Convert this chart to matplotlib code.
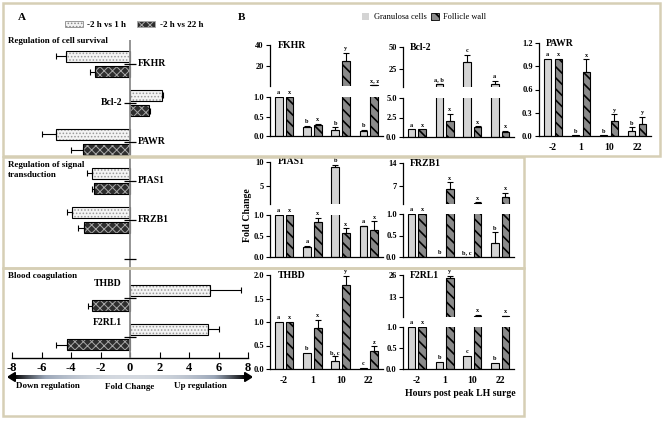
import matplotlib.pyplot as plt
import numpy as np
from matplotlib.patches import Rectangle, Patch
from matplotlib.colors import LinearSegmentedColormap

plt.rcParams['font.family'] = ['Liberation Serif', 'DejaVu Serif']
plt.rcParams['font.weight'] = 'bold'
plt.rcParams['axes.unicode_minus'] = False

# ---- panel A data: log fold change vs -2 h ----
genes = ['FKHR', 'Bcl-2', 'PAWR', 'PIAS1', 'FRZB1', '', 'THBD', 'F2RL1']
fc_1h = [-4.35, 2.2, -5.0, -2.6, -3.95, np.nan, 5.4, 5.3]
err_1h = [0.7, 0.05, 1.0, 0.3, 0.35, np.nan, 2.1, 0.7]
fc_22h = [-2.4, 1.3, -3.2, -2.45, -3.1, np.nan, -2.6, -4.3]
err_22h = [0.3, 0.05, 0.8, 0.1, 0.4, np.nan, 0.25, 0.7]
label_side = ['r', 'l', 'r', 'r', 'r', '', 'l', 'l']
groups = ['Regulation of cell survival', 'Regulation of signal\ntransduction', 'Blood coagulation']

# ---- panel B data: fold change, granulosa cells (gc) and follicle wall (fw) ----
hours = ['-2', '1', '10', '22']
gc_mean = {'FKHR': [1.0, 0.24, 0.15, 0.13], 'Bcl-2': [1.0, 8.5, 33.5, 8.5],
           'PAWR': [1.0, 0.01, 0.01, 0.07], 'PIAS1': [1.0, 0.25, 9.0, 0.74],
           'FRZB1': [1.0, 0.0, 0.01, 0.32], 'THBD': [1.0, 0.35, 0.17, 0.03],
           'F2RL1': [1.0, 0.17, 0.31, 0.14]}
gc_err = {'FKHR': [0, 0.02, 0.07, 0.03], 'Bcl-2': [0, 0.6, 8, 4],
          'PAWR': [0, 0, 0, 0.04], 'PIAS1': [0, 0.01, 0.4, 0.01],
          'FRZB1': [0, 0, 0, 0.25], 'THBD': [0, 0, 0.1, 0],
          'F2RL1': [0, 0, 0, 0]}
fw_mean = {'FKHR': [1.0, 0.27, 24.5, 1.8], 'Bcl-2': [1.0, 2.1, 1.3, 0.7],
           'PAWR': [1.0, 0.82, 0.19, 0.16], 'PIAS1': [1.0, 0.84, 0.58, 0.65],
           'FRZB1': [1.0, 5.8, 1.6, 3.5], 'THBD': [1.0, 0.88, 1.78, 0.38],
           'F2RL1': [1.0, 24.5, 1.9, 1.8]}
fw_err = {'FKHR': [0, 0.05, 8, 0.4], 'Bcl-2': [0, 0.9, 0.05, 0.1],
          'PAWR': [0, 0.17, 0.09, 0.09], 'PIAS1': [0, 0.09, 0.1, 0.2],
          'FRZB1': [0, 2.2, 0.2, 1.3], 'THBD': [0, 0.16, 0.2, 0.1],
          'F2RL1': [0, 1.2, 0.8, 0.3]}
gc_sig = {'FKHR': ['a', 'b', 'b', 'b'], 'Bcl-2': ['a', 'a, b', 'c', 'a'],
          'PAWR': ['a', 'b', 'b', 'b'], 'PIAS1': ['a', 'a', 'b', 'a'],
          'FRZB1': ['a', 'b', 'b, c', 'b'], 'THBD': ['a', 'b', 'b, c', 'c'],
          'F2RL1': ['a', 'b', 'c', 'b']}
fw_sig = {'FKHR': ['x', 'x', 'y', 'x, z'], 'Bcl-2': ['x', 'x', 'x', 'x'],
          'PAWR': ['x', 'x', 'y', 'y'], 'PIAS1': ['x', 'x', 'x', 'x'],
          'FRZB1': ['x', 'x', 'x', 'x'], 'THBD': ['x', 'x', 'y', 'z'],
          'F2RL1': ['x', 'y', 'x', 'x']}

W, H = 662, 422
fig = plt.figure(figsize=(W / 100, H / 100), dpi=100)


def add_ax(l, t, r, b):
    return fig.add_axes([l / W, 1 - b / H, (r - l) / W, (b - t) / H])


def fx(x):
    return x / W


def fy(y):
    return 1 - y / H


# section boxes
for (l, t, r, b) in [(3, 3, 660, 156), (3, 157, 524, 268), (3, 268, 524, 416)]:
    fig.patches.append(Rectangle((fx(l), fy(b)), (r - l) / W, (b - t) / H,
                                 transform=fig.transFigure, fill=False,
                                 edgecolor='#d6cfb5', lw=1.8))

fig.text(fx(18), fy(17), 'A', fontsize=8, va='center')
fig.text(fx(238), fy(17), 'B', fontsize=8, va='center')

# ---------------- panel A ----------------
axA = add_ax(12, 40, 248, 358)
pos = np.arange(len(genes))
ok = [i for i, g in enumerate(genes) if g]
v1 = np.array([fc_1h[i] for i in ok])
v2 = np.array([fc_22h[i] for i in ok])
e1 = np.array([err_1h[i] for i in ok])
e2 = np.array([err_22h[i] for i in ok])
p = pos[ok]

plt.rcParams['hatch.linewidth'] = 0.7
axA.barh(p - 0.2, v1, height=0.28, color='#f4f4f4', edgecolor='#9a9a9a', hatch='.....', lw=0)
axA.barh(p - 0.2, v1, height=0.28, fill=False, edgecolor='black', lw=0.8)
axA.barh(p + 0.2, v2, height=0.28, color='#2e2e2e', edgecolor='#a8a8a8', hatch='xxxx', lw=0)
axA.barh(p + 0.2, v2, height=0.28, fill=False, edgecolor='black', lw=0.8)
for vals, errs, off in [(v1, e1, -0.2), (v2, e2, 0.2)]:
    lo = np.where(vals < 0, errs, 0)
    hi = np.where(vals > 0, errs, 0)
    axA.errorbar(vals, p + off, xerr=[lo, hi], fmt='none', ecolor='black',
                 elinewidth=0.8, capsize=2.5, capthick=0.8)
axA.axvline(0, color='#8c8c8c', lw=1.3, zorder=4)
axA.plot(np.zeros(len(genes)), pos, ls='none', marker='_', ms=8, mew=0.9, color='black', zorder=5)
for i, g in enumerate(genes):
    if not g:
        continue
    if label_side[i] == 'r':
        axA.text(0.5, i, g, ha='left', va='center', fontsize=7)
    else:
        dy = -0.38 if g in ('THBD', 'F2RL1') else 0
        axA.text(-0.55, i + dy, g, ha='right', va='center', fontsize=7)
axA.set_xlim(-8, 8)
axA.set_ylim(7.54, -0.615)
axA.set_xticks(np.arange(-8, 9, 2))
axA.set_yticks([])
for s in ['top', 'right', 'left']:
    axA.spines[s].set_visible(False)
axA.spines['bottom'].set_linewidth(1.0)
axA.tick_params(axis='x', direction='in', length=4, labelsize=9, pad=3)
axA.patch.set_alpha(0)

for txt, y in zip(groups, [41, 170, 276]):
    fig.text(fx(8), fy(y), txt, fontsize=6.5, va='center', ha='left', linespacing=1.2)

# gradient arrow
axG = add_ax(8, 372, 252, 382)
axG.set_xlim(0, 1)
axG.set_ylim(0, 1)
axG.axis('off')
grad = np.abs(np.linspace(-1, 1, 300)) ** 2.2
cmap = LinearSegmentedColormap.from_list('g', ['#d4d9e0', '#9aa6b8', 'black'])
axG.imshow(grad[None, :], aspect='auto', cmap=cmap, extent=(0.025, 0.975, 0.3, 0.7))
axG.fill([0, 0.03, 0.03], [0.5, 0.05, 0.95], color='black')
axG.fill([1, 0.97, 0.97], [0.5, 0.05, 0.95], color='black')
fig.text(fx(48), fy(386), 'Down regulation', fontsize=6.5, ha='center', va='center')
fig.text(fx(130), fy(387), 'Fold Change', fontsize=6.5, ha='center', va='center')
fig.text(fx(200), fy(386), 'Up regulation', fontsize=6.5, ha='center', va='center')

hA = [Patch(facecolor='#f4f4f4', edgecolor='#8a8a8a', hatch='.....', lw=0.6),
      Patch(facecolor='#2e2e2e', edgecolor='#a8a8a8', hatch='xxxx', lw=0.6)]
fig.legend(hA, ['-2 h vs 1 h', '-2 h vs 22 h'], loc='center', bbox_to_anchor=(fx(134), fy(25)),
           ncol=2, frameon=False, fontsize=6.5, handlelength=2.0, handleheight=0.6,
           columnspacing=1.2, handletextpad=0.5)

# ---------------- panel B ----------------
plt.rcParams['hatch.linewidth'] = 1.2
x = np.arange(len(hours))


def draw_bars(ax, gene, floor=None):
    for off, means, errs, style in [(-0.19, gc_mean, gc_err, dict(color='#d4d4d4')),
                                    (0.19, fw_mean, fw_err, dict(color='#8a8a8a', hatch='\\\\\\'))]:
        m = np.array(means[gene])
        e = np.array(errs[gene])
        if floor is not None:
            # bars that end below the break are not shown in the upper part
            show = m > floor
        else:
            show = np.ones(4, bool)
        ax.bar(x[show] + off, m[show], 0.27, edgecolor='black', lw=0.8, **style)
        keep = show & (e > 0)
        if keep.any():
            ax.errorbar(x[keep] + off, m[keep], yerr=[np.zeros(keep.sum()), e[keep]], fmt='none',
                        ecolor='black', elinewidth=0.8, capsize=2, capthick=0.8)
    ax.set_xlim(-0.5, 3.5)
    ax.tick_params(axis='y', direction='out', length=3, width=0.8, labelsize=6, pad=1.5)
    for s in ['top', 'right']:
        ax.spines[s].set_visible(False)
    ax.spines['left'].set_linewidth(0.9)
    ax.spines['bottom'].set_linewidth(0.9)


def panel_b(gene, l, r, lower, upper=None, xlab=False):
    lt, lb, lylim, lticks, lfmt = lower
    axl = add_ax(l, lt, r, lb)
    draw_bars(axl, gene)
    axl.set_ylim(*lylim)
    axl.set_yticks(lticks)
    axl.set_yticklabels([lfmt.format(t) for t in lticks])
    if xlab:
        axl.set_xticks(x)
        axl.set_xticklabels(hours, fontsize=7)
        axl.tick_params(axis='x', length=0, pad=5)
    else:
        axl.set_xticks([])
    axu = None
    if upper:
        ut, ub, uylim, uticks = upper
        axu = add_ax(l, ut, r, ub)
        draw_bars(axu, gene, floor=uylim[0])
        axu.set_ylim(*uylim)
        axu.set_yticks(uticks)
        axu.set_xticks([])
        axu.spines['bottom'].set_visible(False)
        axu.patch.set_alpha(0)
    top_ax = axu if axu is not None else axl
    top_ax.text(0.065, 1.0, gene, transform=top_ax.transAxes, ha='left', va='center', fontsize=7)
    for off, means, errs, sig in [(-0.19, gc_mean, gc_err, gc_sig), (0.19, fw_mean, fw_err, fw_sig)]:
        for k in range(4):
            top = means[gene][k] + errs[gene][k]
            ax = axu if (axu is not None and top > lylim[1]) else axl
            ax.annotate(sig[gene][k], (x[k] + off, top), xytext=(0, 1.2), textcoords='offset points',
                        ha='center', va='bottom', fontsize=4.5, annotation_clip=False)


c1, c2, c3 = (270, 383), (403, 514), (539, 651)
panel_b('FKHR', *c1, (97, 136, (0, 1), [0, 0.5, 1.0], '{:.1f}'), (45, 86, (1.3, 40), [20, 40]))
panel_b('Bcl-2', *c2, (98, 137, (0, 5), [0, 2.5, 5.0], '{:.1f}'), (47, 87, (5.5, 50), [25, 50]))
panel_b('PAWR', *c3, (43, 136, (0, 1.2), [0, 0.3, 0.6, 0.9, 1.2], '{:.1f}'), xlab=True)
panel_b('PIAS1', *c1, (215, 257, (0, 1), [0, 0.5, 1.0], '{:.1f}'), (162, 204, (1.3, 10), [5, 10]))
panel_b('FRZB1', *c2, (214, 257, (0, 1), [0, 0.5, 1.0], '{:.1f}'), (163, 204, (1.3, 14), [7, 14]))
panel_b('THBD', *c1, (275, 369, (0, 2), [0, 0.5, 1.0, 1.5, 2.0], '{:.1f}'), xlab=True)
panel_b('F2RL1', *c2, (327, 369, (0, 1), [0, 0.5, 1.0], '{:.1f}'), (275, 317, (1.3, 26), [13, 26]), xlab=True)

fig.text(fx(247), fy(215), 'Fold Change', rotation=90, fontsize=7, ha='center', va='center')
fig.text(fx(460), fy(393), 'Hours post peak LH surge', fontsize=7, ha='center', va='center')

hB = [Patch(facecolor='#d4d4d4', edgecolor='none'),
      Patch(facecolor='#8a8a8a', edgecolor='black', hatch='\\\\\\', lw=0.6)]
fig.legend(hB, ['Granulosa cells', 'Follicle wall'], loc='center', bbox_to_anchor=(fx(424), fy(17)),
           ncol=2, frameon=False, prop={'size': 6, 'weight': 'normal'}, handlelength=0.9,
           handleheight=0.9, columnspacing=0.6, handletextpad=0.5)

fig.savefig('out.png', dpi=100)
